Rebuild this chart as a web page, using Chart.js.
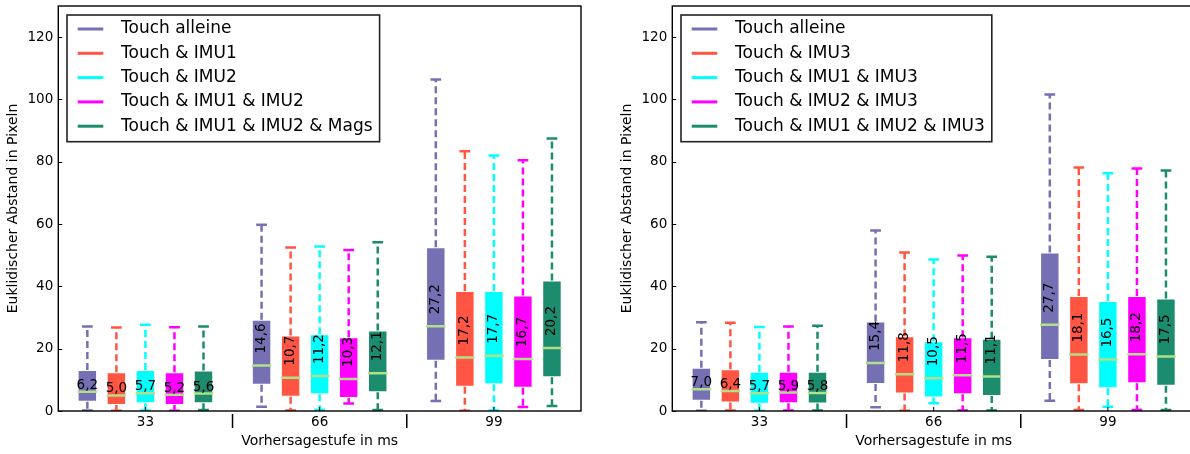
<!DOCTYPE html>
<html>
<head>
<meta charset="utf-8">
<script src="https://cdn.jsdelivr.net/npm/chart.js@4.4.1/dist/chart.umd.min.js"></script>
<style>
  html, body { margin: 0; padding: 0; background: #fff; }
  body { width: 1190px; height: 454px; overflow: hidden; position: relative; }
  canvas { position: absolute; top: 0; }
  #left { left: 0; }
  #right { left: 614px; }
</style>
</head>
<body>
<canvas id="left" width="595" height="454"></canvas>
<canvas id="right" width="595" height="454"></canvas>
<script>
// ---------- data ----------
const categories = ['33', '66', '99'];
const yTicks = [0, 20, 40, 60, 80, 100, 120];
const xTitle = 'Vorhersagestufe in ms';
const yTitle = 'Euklidischer Abstand in Pixeln';

const seriesLeft = ['Touch alleine', 'Touch & IMU1', 'Touch & IMU2', 'Touch & IMU1 & IMU2', 'Touch & IMU1 & IMU2 & Mags'];
const seriesRight = ['Touch alleine', 'Touch & IMU3', 'Touch & IMU1 & IMU3', 'Touch & IMU2 & IMU3', 'Touch & IMU1 & IMU2 & IMU3'];
const colors = ['#7570b3', '#ff5542', '#00ffff', '#ff00ff', '#1b8c6d'];

// per series: values for categories 33, 66, 99
const leftLow    = [[0.2, 1.4, 3.2], [0.1, 0.2, 0.1], [0.2, 0.3, 0.2], [0.1, 2.4, 1.3], [0.3, 0.3, 1.6]];
const leftQ1     = [[3.0, 8.4, 16.1], [1.9, 4.6, 7.8], [2.5, 5.4, 8.6], [1.9, 4.2, 7.5], [2.5, 6.0, 10.8]];
const leftMedian = [[6.2, 14.6, 27.2], [5.0, 10.7, 17.2], [5.7, 11.2, 17.7], [5.2, 10.3, 16.7], [5.6, 12.1, 20.2]];
const leftQ3     = [[13.2, 29.3, 52.6], [12.4, 24.2, 38.5], [13.2, 24.6, 38.5], [12.4, 23.7, 37.1], [13.0, 25.8, 41.9]];
const leftHigh   = [[27.1, 59.8, 106.4], [26.8, 52.5, 83.4], [27.7, 52.8, 82.0], [26.9, 51.7, 80.5], [27.1, 54.2, 87.5]];

const rightLow    = [[0.1, 1.2, 3.3], [0.2, 0.1, 0.3], [0.1, 2.5, 1.4], [0.2, 0.2, 0.3], [0.2, 0.2, 0.3]];
const rightQ1     = [[3.3, 8.7, 16.4], [2.7, 5.6, 8.6], [2.3, 4.3, 7.3], [2.5, 5.4, 8.9], [2.4, 4.8, 8.1]];
const rightMedian = [[7.0, 15.4, 27.7], [6.4, 11.8, 18.1], [5.7, 10.5, 16.5], [5.9, 11.5, 18.2], [5.8, 11.1, 17.5]];
const rightQ3     = [[13.9, 28.7, 50.9], [13.4, 24.0, 36.9], [12.6, 22.4, 35.3], [12.6, 23.7, 36.9], [12.6, 23.2, 36.1]];
const rightHigh   = [[28.5, 57.9, 101.6], [28.3, 50.9, 78.2], [27.0, 48.6, 76.3], [27.1, 49.9, 77.8], [27.4, 49.5, 77.2]];

// ---------- drawing ----------
const FONT = 'DejaVu Sans';
Chart.defaults.font.family = FONT;
Chart.defaults.color = '#000';
const MEDIAN_COLOR = '#b2df8a';

function fmt(v) { return v.toFixed(1).replace('.', ','); }

function makePlugin(stats) {
  return {
    id: 'boxExtras',
    afterDatasetsDraw(chart) {
      const { ctx, chartArea: a, scales: { x, y } } = chart;
      ctx.save();
      ctx.beginPath();
      ctx.rect(a.left, a.top, a.right - a.left, a.bottom - a.top);
      ctx.clip();
      chart.data.datasets.forEach((ds, i) => {
        const meta = chart.getDatasetMeta(i);
        meta.data.forEach((bar, j) => {
          const cx = bar.x, w = bar.width;
          const lo = stats.low[i][j], q1 = stats.q1[i][j], md = stats.med[i][j],
                q3 = stats.q3[i][j], hi = stats.high[i][j];
          const col = ds.backgroundColor;
          // whiskers
          ctx.strokeStyle = col;
          ctx.lineWidth = 2.5;
          ctx.setLineDash([7, 4]);
          ctx.beginPath();
          ctx.moveTo(cx, y.getPixelForValue(q3));
          ctx.lineTo(cx, y.getPixelForValue(hi));
          ctx.moveTo(cx, y.getPixelForValue(q1));
          ctx.lineTo(cx, y.getPixelForValue(lo));
          ctx.stroke();
          ctx.setLineDash([]);
          // caps
          const capW = w * 0.55;
          ctx.beginPath();
          ctx.moveTo(cx - capW / 2, y.getPixelForValue(hi));
          ctx.lineTo(cx + capW / 2, y.getPixelForValue(hi));
          ctx.moveTo(cx - capW / 2, y.getPixelForValue(lo));
          ctx.lineTo(cx + capW / 2, y.getPixelForValue(lo));
          ctx.stroke();
          // median
          const my = y.getPixelForValue(md);
          ctx.strokeStyle = MEDIAN_COLOR;
          ctx.lineWidth = 2.5;
          ctx.beginPath();
          ctx.moveTo(cx - w / 2, my);
          ctx.lineTo(cx + w / 2, my);
          ctx.stroke();
          // value label
          ctx.fillStyle = '#000';
          ctx.font = '13.5px "' + FONT + '"';
          if (j === 0) {
            ctx.textAlign = 'center';
            ctx.textBaseline = 'alphabetic';
            ctx.fillText(fmt(md), cx, my - 3);
          } else {
            ctx.save();
            ctx.translate(cx, my - 12);
            ctx.rotate(-Math.PI / 2);
            ctx.textAlign = 'left';
            ctx.textBaseline = 'middle';
            ctx.fillText(fmt(md), 0, 0);
            ctx.restore();
          }
        });
      });
      ctx.restore();

      // frame
      ctx.save();
      ctx.strokeStyle = '#000';
      ctx.lineWidth = 1.4;
      ctx.strokeRect(a.left, a.top, a.right - a.left, a.bottom - a.top);
      // inward ticks
      ctx.lineWidth = 1;
      ctx.beginPath();
      yTicks.forEach(v => {
        const py = Math.round(y.getPixelForValue(v)) + 0.5;
        ctx.moveTo(a.left, py); ctx.lineTo(a.left + 4, py);
      });
      const px = categories.map((c, j) => x.getPixelForValue(j));
      px.forEach(p => { ctx.moveTo(p, a.bottom); ctx.lineTo(p, a.bottom - 4); });
      ctx.stroke();
      // category separators below the axis
      ctx.lineWidth = 1.5;
      ctx.beginPath();
      for (let j = 0; j < px.length - 1; j++) {
        const sx = (px[j] + px[j + 1]) / 2;
        ctx.moveTo(sx, a.bottom + 3); ctx.lineTo(sx, a.bottom + 17);
      }
      ctx.stroke();

      // legend
      ctx.font = '17px "' + FONT + '"';
      let maxW = 0;
      chart.data.datasets.forEach(ds => { maxW = Math.max(maxW, ctx.measureText(ds.label).width); });
      const lx = a.left + 8.7, ly = a.top + 9;
      const lw = 54 + maxW + 7, lh = 126.7;
      ctx.fillStyle = '#fff';
      ctx.fillRect(lx, ly, lw, lh);
      ctx.strokeStyle = '#222';
      ctx.lineWidth = 1.6;
      ctx.strokeRect(lx, ly, lw, lh);
      chart.data.datasets.forEach((ds, i) => {
        const ry = ly + 14 + i * 24.3;
        ctx.strokeStyle = ds.backgroundColor;
        ctx.lineWidth = 3;
        ctx.beginPath();
        ctx.moveTo(lx + 10.7, ry); ctx.lineTo(lx + 36.3, ry);
        ctx.stroke();
        ctx.fillStyle = '#000';
        ctx.textAlign = 'left';
        ctx.textBaseline = 'middle';
        ctx.fillText(ds.label, lx + 54, ry);
      });
      ctx.restore();
    }
  };
}

function makeChart(id, names, stats) {
  const tickFont = { family: FONT, size: 13.5 };
  const titleFont = { family: FONT, size: 14 };
  return new Chart(document.getElementById(id), {
    type: 'bar',
    data: {
      labels: categories,
      datasets: names.map((name, i) => ({
        label: name,
        data: categories.map((c, j) => [stats.q1[i][j], stats.q3[i][j]]),
        backgroundColor: colors[i],
        borderColor: 'rgba(255,255,255,0.55)',
        borderWidth: 1,
        borderSkipped: false,
        categoryPercentage: 5 / 6,
        barPercentage: 0.67
      }))
    },
    options: {
      responsive: false,
      animation: false,
      events: [],
      layout: { padding: { top: 6, right: 14, left: 0, bottom: 0 } },
      plugins: { legend: { display: false }, tooltip: { enabled: false } },
      scales: {
        x: {
          grid: { display: false, drawTicks: false },
          border: { display: false },
          ticks: { font: tickFont, color: '#000', padding: 3, maxRotation: 0 },
          title: { display: true, text: xTitle, font: titleFont, color: '#000', padding: { top: 0, bottom: 4 } },
          afterFit(s) { s.height = 43; s.paddingLeft = 0; s.paddingRight = 0; }
        },
        y: {
          min: 0, max: 130,
          grid: { display: false, drawTicks: false },
          border: { display: false },
          ticks: { stepSize: 20, includeBounds: false, font: tickFont, color: '#000', padding: 5 },
          title: { display: true, text: yTitle, font: titleFont, color: '#000', padding: { top: 5, bottom: 0 } },
          afterFit(s) { s.width = 58.3; s.paddingTop = 0; s.paddingBottom = 0; }
        }
      }
    },
    plugins: [makePlugin(stats)]
  });
}

makeChart('left', seriesLeft, { low: leftLow, q1: leftQ1, med: leftMedian, q3: leftQ3, high: leftHigh });
makeChart('right', seriesRight, { low: rightLow, q1: rightQ1, med: rightMedian, q3: rightQ3, high: rightHigh });
</script>
</body>
</html>
